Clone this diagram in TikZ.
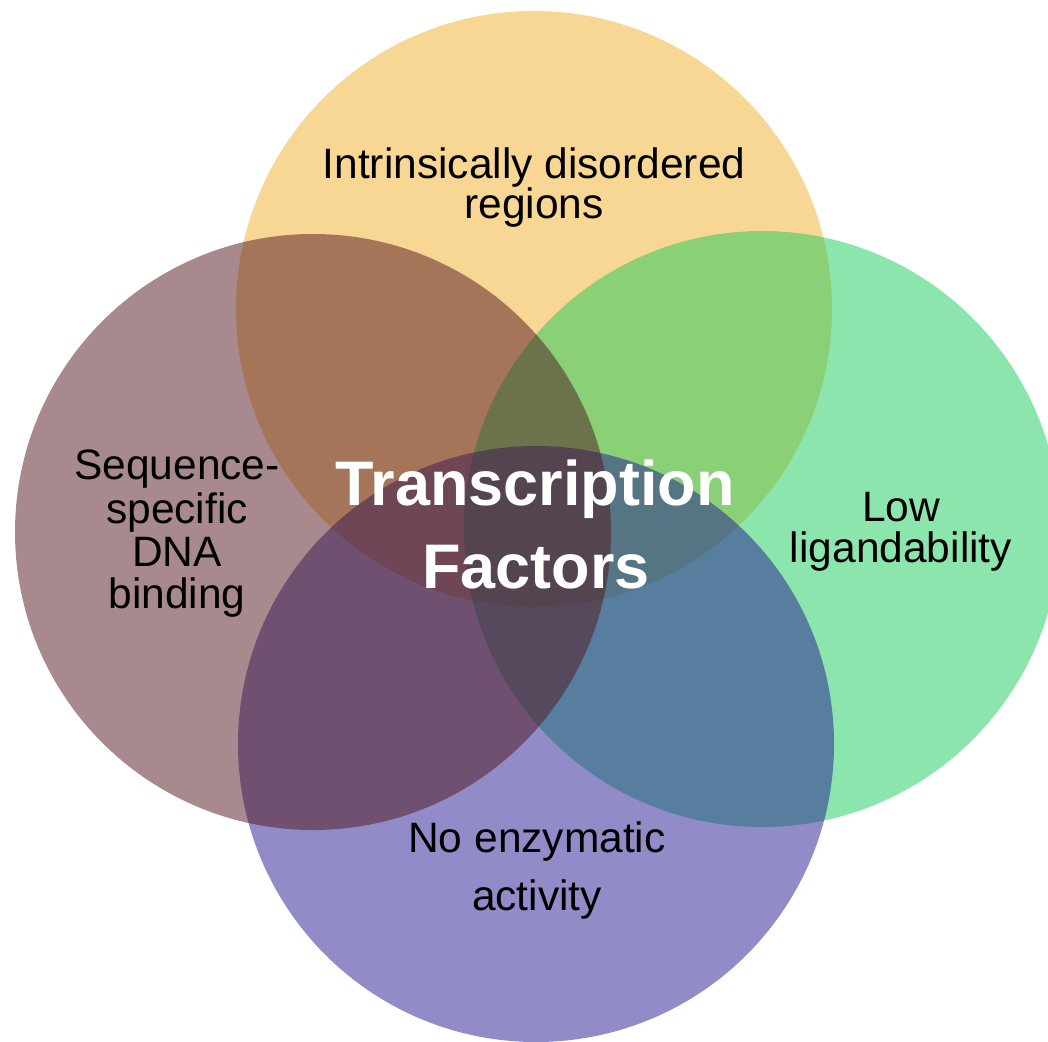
\documentclass[tikz,border=0pt]{standalone}
\usepackage{fontspec}
\setmainfont{Liberation Sans}
\definecolor{cTop}{RGB}{241,175,41}
\definecolor{cLeft}{RGB}{81,21,29}
\definecolor{cRight}{RGB}{27,203,93}
\definecolor{cBottom}{RGB}{35,25,145}
\tikzset{
  setdisc/.style={fill=#1, fill opacity=0.5, draw=none},
  lbl/.style={anchor=base, inner sep=0pt, text=black, font=\fontsize{42.5}{48}\selectfont},
  title/.style={anchor=base, inner sep=0pt, text=white, font=\bfseries\fontsize{63}{70}\selectfont}
}
\begin{document}
\begin{tikzpicture}[x=1pt,y=-1pt]
  \useasboundingbox (0,0) rectangle (1048,1041);
  \clip (0,0) rectangle (1048,1041);
  % four overlapping sets
  \coordinate (ctop) at (534,309);
  \coordinate (cright) at (762,529);
  \coordinate (cbottom) at (536,744);
  \coordinate (cleft) at (313,532);
  \fill[setdisc=cTop]    (ctop)    circle[radius=298pt];
  \fill[setdisc=cRight]  (cright)  circle[radius=298pt];
  \fill[setdisc=cBottom] (cbottom) circle[radius=298pt];
  \fill[setdisc=cLeft]   (cleft)   circle[radius=298pt];
  % set labels
  \node[lbl] (top1) at (534,178) {Intrinsically disordered};
  \node[lbl] (top2) at (534,218) {regions};
  \node[lbl] (left1) at (177,479) {Sequence-};
  \node[lbl] (left2) at (177,523) {specific};
  \node[lbl] (left3) at (177,566) {DNA};
  \node[lbl] (left4) at (177,608) {binding};
  \node[lbl] (right1) at (901,521) {Low};
  \node[lbl] (right2) at (901,562) {ligandability};
  \node[lbl] (bot1) at (537,852) {No enzymatic};
  \node[lbl] (bot2) at (537,910) {activity};
  % central title
  \node[title] (tf1) at (535,505) {Transcription};
  \node[title] (tf2) at (536,588) {Factors};
\end{tikzpicture}
\end{document}
